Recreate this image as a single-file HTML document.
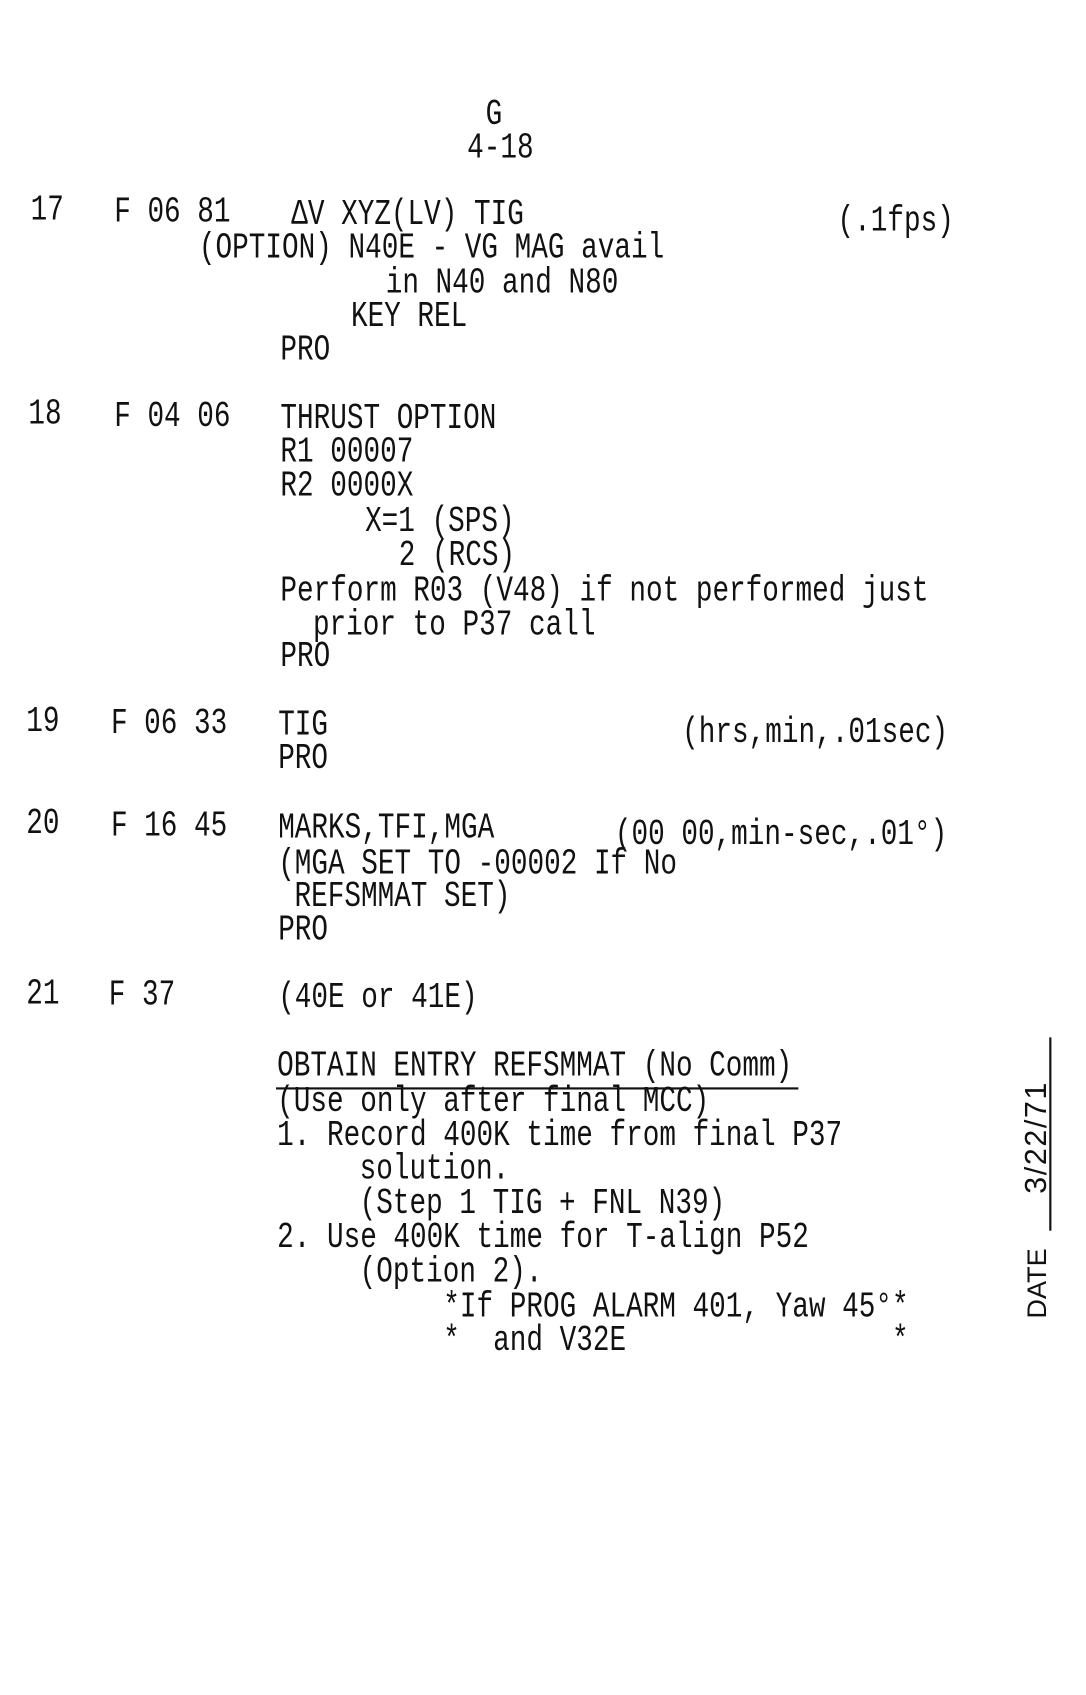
<!DOCTYPE html>
<html><head><meta charset="utf-8"><style>
html,body{margin:0;padding:0;background:#fff;width:1086px;height:1695px;overflow:hidden}
#w{position:absolute;left:-2px;top:-3px;width:1000px;height:1561px;transform:scale(1.086);transform-origin:0 0}
.t{position:absolute;font-family:"Liberation Mono",monospace;font-size:25.5px;line-height:25.5px;white-space:pre;color:#111;transform:scaleY(1.31);transform-origin:0 0}
</style></head><body><div id="w">
<div class="t" style="left:449px;top:92px">G</div>
<div class="t" style="left:432px;top:123px">4-18</div>

<div class="t" style="left:30px;top:180px">17</div>
<div class="t" style="left:107px;top:182px">F 06 81</div>
<div class="t" style="left:270px;top:184px">ΔV XYZ(LV) TIG</div>
<div class="t" style="left:773px;top:190px">(.1fps)</div>
<div class="t" style="left:185px;top:215px">(OPTION) N40E - VG MAG avail</div>
<div class="t" style="left:357px;top:247px">in N40 and N80</div>
<div class="t" style="left:325px;top:278px">KEY REL</div>
<div class="t" style="left:260px;top:309px">PRO</div>

<div class="t" style="left:28px;top:368px">18</div>
<div class="t" style="left:107px;top:370px">F 04 06</div>
<div class="t" style="left:260px;top:372px">THRUST OPTION</div>
<div class="t" style="left:260px;top:403px">R1 00007</div>
<div class="t" style="left:260px;top:434px">R2 0000X</div>
<div class="t" style="left:338px;top:467px">X=1 (SPS)</div>
<div class="t" style="left:369px;top:498px">2 (RCS)</div>
<div class="t" style="left:260px;top:531px">Perform R03 (V48) if not performed just</div>
<div class="t" style="left:290px;top:562px">prior to P37 call</div>
<div class="t" style="left:260px;top:591px">PRO</div>

<div class="t" style="left:26px;top:651px">19</div>
<div class="t" style="left:104px;top:653px">F 06 33</div>
<div class="t" style="left:258px;top:654px">TIG</div>
<div class="t" style="left:630px;top:661px">(hrs,min,.01sec)</div>
<div class="t" style="left:258px;top:685px">PRO</div>

<div class="t" style="left:26px;top:745px">20</div>
<div class="t" style="left:104px;top:747px">F 16 45</div>
<div class="t" style="left:258px;top:749px">MARKS,TFI,MGA</div>
<div class="t" style="left:568px;top:755px">(00 00,min-sec,.01°)</div>
<div class="t" style="left:258px;top:782px">(MGA SET TO -00002 If No</div>
<div class="t" style="left:273px;top:812px">REFSMMAT SET)</div>
<div class="t" style="left:258px;top:843px">PRO</div>

<div class="t" style="left:26px;top:902px">21</div>
<div class="t" style="left:102px;top:903px">F 37</div>
<div class="t" style="left:258px;top:905px">(40E or 41E)</div>

<div class="t" style="left:257px;top:968px">OBTAIN ENTRY REFSMMAT (No Comm)</div>
<div style="position:absolute;left:256px;top:1004px;width:481px;height:2px;background:#111"></div>
<div class="t" style="left:257px;top:1001px">(Use only after final MCC)</div>
<div class="t" style="left:257px;top:1032px">1. Record 400K time from final P37</div>
<div class="t" style="left:333px;top:1063px">solution.</div>
<div class="t" style="left:333px;top:1095px">(Step 1 TIG + FNL N39)</div>
<div class="t" style="left:257px;top:1126px">2. Use 400K time for T-align P52</div>
<div class="t" style="left:333px;top:1158px">(Option 2).</div>
<div class="t" style="left:410px;top:1190px">*If PROG ALARM 401, Yaw 45°*</div>
<div class="t" style="left:410px;top:1221px">*  and V32E                *</div>

<div style="position:absolute;left:968px;top:958px;width:2px;height:178px;background:#111"></div>
<div style="position:absolute;left:945px;top:1217px;transform:rotate(-90deg);transform-origin:0 0;font-family:'Liberation Sans',sans-serif;font-size:25px;line-height:25px;white-space:nowrap;color:#111">DATE</div>
<div style="position:absolute;left:942px;top:1102px;transform:rotate(-90deg);transform-origin:0 0;font-family:'Liberation Sans',sans-serif;font-size:28px;line-height:28px;letter-spacing:1.5px;white-space:nowrap;color:#111">3/22/71</div>
</div></body></html>
